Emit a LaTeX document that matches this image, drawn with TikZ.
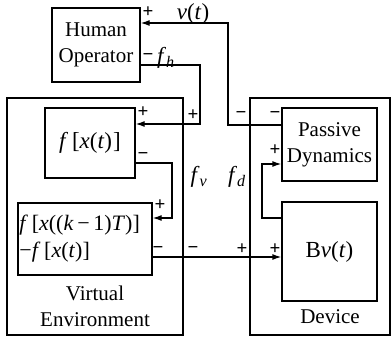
\documentclass[tikz,border=0pt]{standalone}
\usepackage{fontspec}
\setmainfont{Liberation Serif}
\usetikzlibrary{arrows.meta}
\newcommand{\mi}[1]{\textit{#1}}
\newcommand{\mfont}{\fontsize{23}{27}\selectfont}
\begin{document}
\begin{tikzpicture}[x=1pt,y=-1pt,
  every node/.style={font=\fontsize{21}{26}\selectfont},
  blk/.style={draw, line width=1.3pt, inner sep=0pt, align=center},
  outer/.style={draw, line width=1.8pt, inner sep=0pt},
  arr/.style={line width=1.3pt, -{Latex[length=9pt,width=6pt]}},
  sgn/.style={font=\fontsize{19}{19}\bfseries\selectfont, inner sep=0pt},
  lbl/.style={inner sep=0pt},
  mlbl/.style={inner sep=0pt, font=\mfont}]
\useasboundingbox (0,0) rectangle (391,339);
% outer boxes
\node[outer, minimum width=176pt, minimum height=237pt] (ve) at (95,216.5) {};
\node[outer, minimum width=140pt, minimum height=237pt] (dev) at (320,216.5) {};
\node[lbl, align=center] (vel) at (95,306) {Virtual\\Environment};
\node[lbl] (devl) at (330,317) {Device};
% blocks
\node[blk, minimum width=88pt, minimum height=74pt] (ho) at (96,45) {Human\\Operator};
\node[blk, minimum width=90pt, minimum height=70pt, font=\mfont] (fx) at (90,143) {\mi{f}\,[\mi{x}(\mi{t})\kern1pt]};
\node[blk, minimum width=134pt, minimum height=72pt, text width=131pt, align=left, font=\fontsize{22}{27}\selectfont] (fk) at (85,239)
  {\mi{f}\,[\mi{x}((\mi{k}\,−\,1)\mi{T})]\\−\mi{f}\,[\mi{x}(\mi{t})]};
\node[blk, minimum width=95pt, minimum height=73pt] (pd) at (329.5,144.5) {Passive\\Dynamics};
\node[blk, minimum width=95pt, minimum height=99pt, font=\mfont] (bv) at (329.5,251.5) {B\mi{v}(\mi{t})};
% connectors
\draw[arr] (pd.west |- 0,125) -| (228,23) -- (ho.east |- 0,23);
\draw[arr] (ho.east |- 0,65) -| (200,124) -- (fx.east |- 0,124);
\draw[arr] (fx.east |- 0,163) -| (172,218) -- (fk.east |- 0,218);
\draw[arr] (fk.east |- 0,257) -- (bv.west |- 0,257);
\draw[arr] (bv.west |- 0,218) -| (262,164) -- (pd.west |- 0,164);
% signs
\node[sgn] (s1) at (148,12) {+};
\node[sgn] (s2) at (148,57) {−};
\node[sgn] (s3) at (143,112) {+};
\node[sgn] (s4) at (193,115) {+};
\node[sgn] (s5) at (241,115) {−};
\node[sgn] (s6) at (275,115) {−};
\node[sgn] (s7) at (143,156) {−};
\node[sgn] (s8) at (160,205) {+};
\node[sgn] (s9) at (158,250) {−};
\node[sgn] (s10) at (193,250) {−};
\node[sgn] (s11) at (242,249) {+};
\node[sgn] (s12) at (275,249) {+};
\node[sgn] (s13) at (275,150) {+};
% signal labels
\node[mlbl] (vt) at (193,14) {\mi{v}(\mi{t})};
\node[mlbl] (fh) at (166,58) {\mi{f}\textsubscript{\mi{h}}};
\node[mlbl] (fv) at (199,177) {\mi{f}\textsubscript{\mi{v}}};
\node[mlbl] (fd) at (237,177) {\mi{f}\textsubscript{\mi{d}}};
\end{tikzpicture}
\end{document}
